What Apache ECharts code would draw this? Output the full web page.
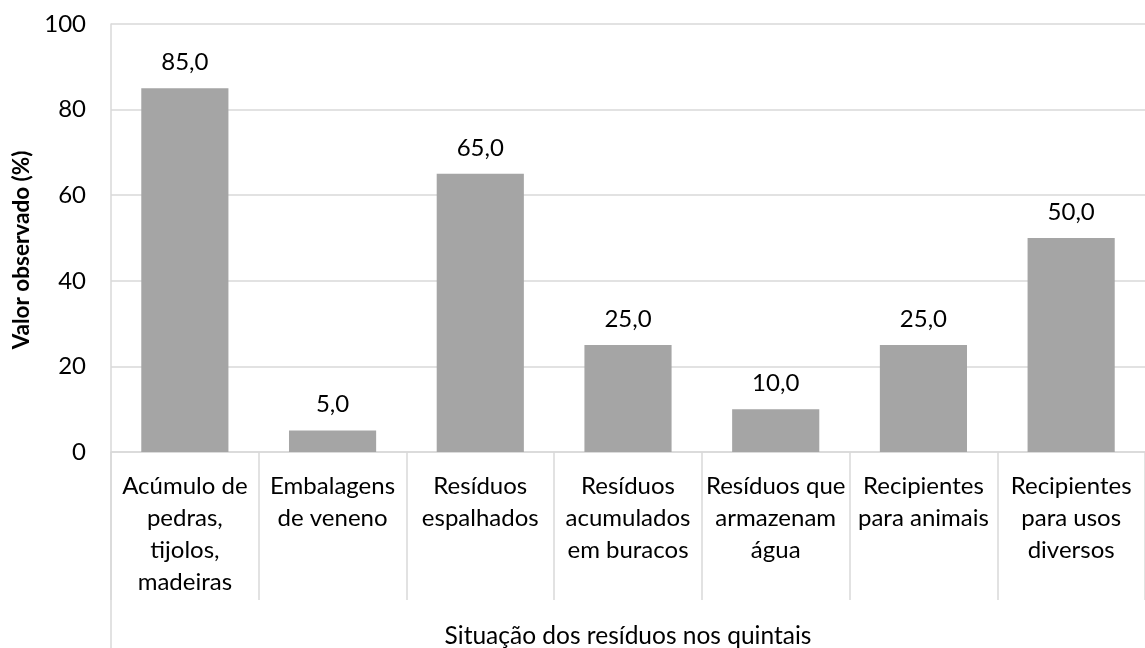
<!DOCTYPE html>
<html>
<head>
<meta charset="utf-8">
<script src="https://cdn.jsdelivr.net/npm/echarts@6/dist/echarts.min.js"></script>
<style>
html,body{margin:0;padding:0;background:#fff;}
#chart{width:1145px;height:648px;}
</style>
</head>
<body>
<div id="chart"></div>
<script>
const categories = [
  "Acúmulo de\npedras,\ntijolos,\nmadeiras",
  "Embalagens\nde veneno",
  "Resíduos\nespalhados",
  "Resíduos\nacumulados\nem buracos",
  "Resíduos que\narmazenam\nágua",
  "Recipientes\npara animais",
  "Recipientes\npara usos\ndiversos"
];
const values = [85, 5, 65, 25, 10, 25, 50];
const yTicks = { min: 0, max: 100, interval: 20 };
const yTitle = "Valor observado (%)";
const xTitle = "Situação dos resíduos nos quintais";

const FONT = "Lato";
const chart = echarts.init(document.getElementById('chart'), null, {renderer: 'canvas'});
chart.setOption({
  animation: false,
  textStyle: { fontFamily: FONT },
  grid: { left: 111, right: 0, top: 24, bottom: 196, containLabel: false, outerBoundsMode: 'none' },
  xAxis: {
    type: 'category',
    data: categories,
    name: xTitle,
    nameLocation: 'middle',
    nameGap: 172,
    nameTextStyle: { fontFamily: FONT, fontSize: 24.5, color: '#000' },
    axisLine: { show: true, lineStyle: { color: '#d9d9d9', width: 1.5 } },
    axisTick: { show: true, alignWithLabel: false, length: 148, lineStyle: { color: '#d9d9d9', width: 1.5 } },
    axisLabel: { interval: 0, fontFamily: FONT, fontSize: 24, color: '#000', lineHeight: 32, margin: 18, verticalAlign: 'top', align: 'center' }
  },
  yAxis: {
    type: 'value',
    min: yTicks.min, max: yTicks.max, interval: yTicks.interval,
    name: yTitle,
    nameLocation: 'middle',
    nameGap: 78,
    nameTextStyle: { fontFamily: FONT, fontSize: 22.5, fontWeight: 'bold', color: '#000', padding: [0, 24, 0, 0] },
    axisLine: { show: true, lineStyle: { color: '#d9d9d9', width: 1.5 } },
    axisTick: { show: false },
    splitLine: { lineStyle: { color: '#d9d9d9', width: 1.5 } },
    axisLabel: { fontFamily: FONT, fontSize: 24, color: '#000', margin: 25 }
  },
  series: [{
    type: 'bar',
    data: values,
    barWidth: '59%',
    itemStyle: { color: '#a5a5a5' },
    label: {
      show: true, position: 'top', distance: 14,
      fontFamily: FONT, fontSize: 24, color: '#000',
      formatter: p => p.value.toFixed(1).replace('.', ',')
    }
  }],
  graphic: [{
    type: 'line',
    shape: { x1: 111, y1: 452, x2: 111, y2: 648 },
    style: { stroke: '#d9d9d9', lineWidth: 1.5 }
  }]
});
</script>
</body>
</html>
